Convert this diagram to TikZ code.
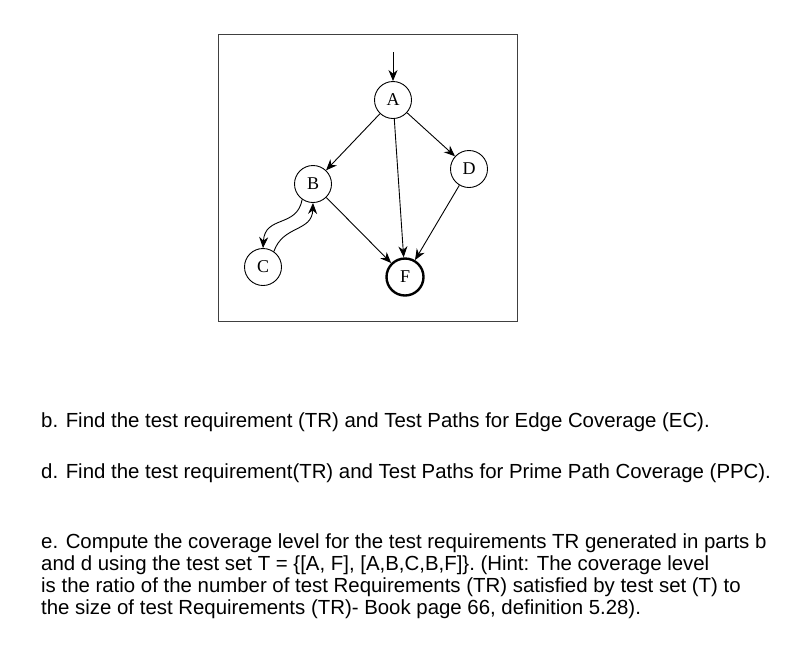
\documentclass[tikz,border=0pt]{standalone}
\usepackage{fontspec}
\usetikzlibrary{arrows.meta}
\setmainfont{Liberation Sans}
\newfontfamily\serifnode{Liberation Serif}
\begin{document}
\begin{tikzpicture}[x=1pt,y=-1pt,
 vtx/.style={circle,draw,line width=0.9pt,minimum size=37pt,inner sep=0pt,font=\serifnode\fontsize{18}{18}\selectfont},
 edge/.style={-{Stealth[length=11pt,width=9pt]},line width=0.9pt},
 txt/.style={anchor=base west,inner sep=0pt,font=\fontsize{20.4}{22}\selectfont}]
\useasboundingbox (0,0) rectangle (786,646);
\draw[line width=1pt,black!75] (218,34) rectangle (517,321);
\node[vtx] (A) at (393,100) {A};
\node[vtx] (B) at (313,184) {B};
\node[vtx] (D) at (469,169) {D};
\node[vtx] (C) at (263,267) {C};
\node[vtx,line width=2.4pt] (F) at (405,277) {F};
\coordinate (s) at (393,52);
\draw[edge] (s) -- (A);
\draw[edge] (A) -- (B);
\draw[edge] (A) -- (D);
\draw[edge] (A) -- (F);
\draw[edge] (B) -- (F);
\draw[edge] (D) -- (F);
\draw[edge] (B.235) .. controls (297,228) and (265,215) .. (C.north);
\draw[edge] (C.55) .. controls (283,225) and (312,232) .. (B.south);
\node[txt] (t1) at (41,427) {b. Find the test requirement (TR) and Test Paths for Edge Coverage (EC).};
\node[txt] (t2) at (41,478) {d. Find the test requirement(TR) and Test Paths for Prime Path Coverage (PPC).};
\node[txt] (t3) at (41,548) {e. Compute the coverage level for the test requirements TR generated in parts b};
\node[txt] (t4) at (41,570) {and d using the test set T = \{[A, F], [A,B,C,B,F]\}. (Hint: The coverage level};
\node[txt] (t5) at (41,592) {is the ratio of the number of test Requirements (TR) satisfied by test set (T) to};
\node[txt] (t6) at (41,614) {the size of test Requirements (TR)- Book page 66, definition 5.28).};
\end{tikzpicture}
\end{document}
